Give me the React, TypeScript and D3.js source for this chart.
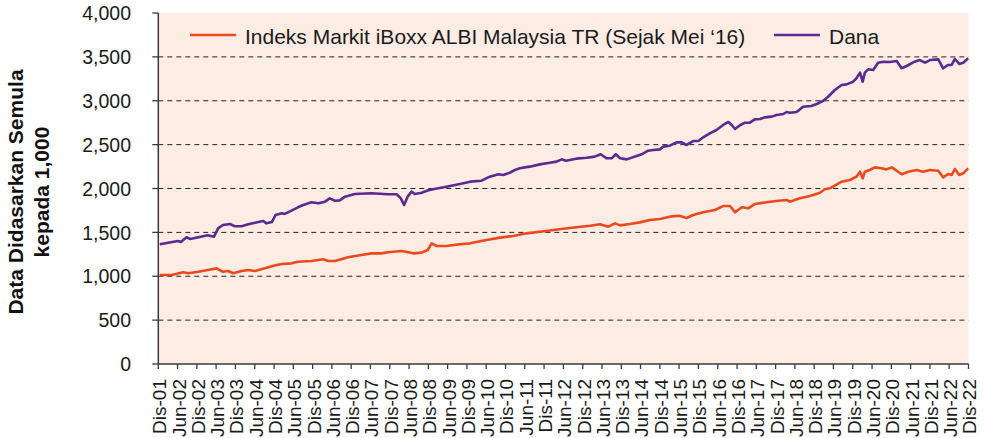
import React from "react";
import * as d3 from "d3";

// Dana (fund)
const FUND: [string, number][] = [
  ["2001-12-15", 1364], ["2002-06-05", 1402], ["2002-07-03", 1390], ["2002-08-25", 1444],
  ["2002-09-28", 1425], ["2002-12-15", 1444], ["2003-03-15", 1467], ["2003-05-12", 1451],
  ["2003-06-20", 1546], ["2003-08-05", 1584], ["2003-10-10", 1595], ["2003-11-28", 1569],
  ["2004-01-28", 1569], ["2004-04-01", 1592], ["2004-06-03", 1610], ["2004-08-20", 1630],
  ["2004-09-20", 1603], ["2004-11-10", 1618], ["2004-12-15", 1698], ["2005-02-12", 1717],
  ["2005-03-12", 1710], ["2005-05-15", 1747], ["2005-07-15", 1786], ["2005-09-03", 1812],
  ["2005-11-20", 1843], ["2006-01-25", 1831], ["2006-03-28", 1850], ["2006-05-12", 1888],
  ["2006-07-01", 1861], ["2006-08-15", 1865], ["2006-10-03", 1907], ["2007-01-05", 1937],
  ["2007-06-12", 1945], ["2007-11-15", 1934], ["2008-02-05", 1934], ["2008-03-15", 1888],
  ["2008-04-15", 1812], ["2008-05-18", 1907], ["2008-06-25", 1964], ["2008-07-25", 1937],
  ["2008-09-28", 1952], ["2008-12-01", 1980], ["2009-01-25", 1994], ["2009-05-20", 2021],
  ["2009-09-25", 2051], ["2010-01-01", 2078], ["2010-04-18", 2089], ["2010-07-05", 2135],
  ["2010-09-25", 2162], ["2010-11-10", 2154], ["2011-01-12", 2180], ["2011-02-28", 2211],
  ["2011-04-15", 2230], ["2011-07-18", 2249], ["2011-10-22", 2275], ["2012-01-25", 2294],
  ["2012-03-28", 2306], ["2012-05-15", 2332], ["2012-06-25", 2317], ["2012-10-01", 2340],
  ["2013-01-05", 2351], ["2013-03-25", 2363], ["2013-05-20", 2390], ["2013-07-15", 2344],
  ["2013-09-01", 2344], ["2013-10-10", 2390], ["2013-11-20", 2344], ["2014-01-22", 2332],
  ["2014-04-25", 2370], ["2014-06-12", 2390], ["2014-08-12", 2431], ["2014-10-01", 2439],
  ["2014-12-01", 2446], ["2015-01-03", 2477], ["2015-03-05", 2488], ["2015-05-07", 2526],
  ["2015-06-25", 2526], ["2015-08-12", 2496], ["2015-10-12", 2541], ["2015-12-01", 2541],
  ["2016-01-15", 2583], ["2016-03-18", 2628], ["2016-05-20", 2667], ["2016-07-22", 2724],
  ["2016-09-10", 2758], ["2016-10-12", 2724], ["2016-11-12", 2678], ["2017-01-01", 2724],
  ["2017-02-15", 2750], ["2017-04-01", 2750], ["2017-05-18", 2788], ["2017-07-05", 2792],
  ["2017-08-22", 2811], ["2017-10-25", 2819], ["2017-12-10", 2838], ["2018-02-12", 2849],
  ["2018-03-15", 2872], ["2018-04-15", 2864], ["2018-06-18", 2872], ["2018-08-18", 2932],
  ["2018-11-05", 2940], ["2018-12-25", 2963], ["2019-02-25", 3000], ["2019-04-12", 3046],
  ["2019-06-15", 3122], ["2019-08-18", 3179], ["2019-10-03", 3187], ["2019-12-05", 3217],
  ["2020-01-05", 3256], ["2020-02-08", 3320], ["2020-03-04", 3217], ["2020-03-25", 3320],
  ["2020-04-25", 3358], ["2020-06-12", 3350], ["2020-07-28", 3434], ["2020-09-15", 3445],
  ["2020-11-18", 3441], ["2021-01-20", 3453], ["2021-03-08", 3370], ["2021-04-25", 3396],
  ["2021-06-25", 3438], ["2021-08-28", 3464], ["2021-10-15", 3434], ["2021-12-01", 3464],
  ["2022-02-18", 3472], ["2022-04-05", 3370], ["2022-05-22", 3408], ["2022-06-25", 3408],
  ["2022-07-25", 3476], ["2022-09-04", 3419], ["2022-10-12", 3434], ["2022-11-28", 3484],
];

// Indeks Markit iBoxx ALBI Malaysia TR
const INDEX: [string, number][] = [
  ["2001-12-15", 1014], ["2002-04-05", 1014], ["2002-07-25", 1045], ["2002-09-10", 1034],
  ["2002-12-15", 1052], ["2003-03-15", 1071], ["2003-06-05", 1090], ["2003-08-01", 1052],
  ["2003-09-25", 1060], ["2003-11-10", 1034], ["2004-01-28", 1060], ["2004-04-01", 1071],
  ["2004-06-03", 1060], ["2004-09-05", 1090], ["2004-11-25", 1120], ["2005-02-12", 1139],
  ["2005-05-15", 1147], ["2005-07-15", 1166], ["2005-11-20", 1174], ["2006-03-10", 1193],
  ["2006-04-28", 1174], ["2006-07-01", 1174], ["2006-11-01", 1216], ["2007-03-08", 1242],
  ["2007-06-12", 1261], ["2007-09-15", 1261], ["2007-11-15", 1273], ["2008-03-20", 1288],
  ["2008-05-01", 1280], ["2008-07-10", 1261], ["2008-09-28", 1269], ["2008-11-25", 1299],
  ["2009-01-01", 1375], ["2009-02-18", 1345], ["2009-05-20", 1345], ["2009-09-25", 1364],
  ["2010-01-01", 1375], ["2010-06-03", 1413], ["2010-10-10", 1440], ["2011-02-12", 1459],
  ["2011-06-18", 1489], ["2011-10-22", 1508], ["2012-02-28", 1527], ["2012-06-01", 1542],
  ["2012-10-01", 1558], ["2013-02-10", 1576], ["2013-05-12", 1592], ["2013-08-01", 1565],
  ["2013-10-02", 1603], ["2013-11-20", 1580], ["2014-02-20", 1595], ["2014-05-25", 1614],
  ["2014-08-28", 1641], ["2014-12-01", 1652], ["2015-03-05", 1679], ["2015-06-03", 1690],
  ["2015-08-12", 1664], ["2015-10-12", 1698], ["2016-01-15", 1729], ["2016-05-05", 1755],
  ["2016-07-22", 1800], ["2016-09-25", 1800], ["2016-11-12", 1729], ["2017-01-15", 1786],
  ["2017-03-15", 1774], ["2017-05-18", 1823], ["2017-09-05", 1843], ["2017-12-28", 1861],
  ["2018-03-15", 1869], ["2018-04-15", 1850], ["2018-07-18", 1888], ["2018-10-22", 1914],
  ["2019-01-25", 1952], ["2019-03-12", 1991], ["2019-04-28", 2002], ["2019-05-28", 2020],
  ["2019-08-18", 2077], ["2019-11-05", 2097], ["2020-01-05", 2135], ["2020-02-08", 2191],
  ["2020-03-04", 2116], ["2020-03-25", 2191], ["2020-05-10", 2211], ["2020-06-28", 2241],
  ["2020-08-28", 2230], ["2020-10-15", 2218], ["2020-12-05", 2241], ["2021-01-20", 2203],
  ["2021-03-08", 2162], ["2021-05-10", 2191], ["2021-07-28", 2211], ["2021-09-28", 2191],
  ["2021-12-01", 2211], ["2022-02-18", 2203], ["2022-04-05", 2127], ["2022-05-22", 2165],
  ["2022-06-25", 2154], ["2022-07-25", 2222], ["2022-09-04", 2154], ["2022-10-12", 2173],
  ["2022-11-28", 2230],
];

const Y_TICKS = [0, 500, 1000, 1500, 2000, 2500, 3000, 3500, 4000];
const MONTH_LABELS: Record<number, string> = { 5: "Jun", 11: "Dis" };
const LEGEND = [
  { name: "Indeks Markit iBoxx ALBI Malaysia TR (Sejak Mei \u201816)", color: "#e9491d" },
  { name: "Dana", color: "#5b2a8e" },
];
const Y_TITLE = ["Data Didasarkan Semula", "kepada 1,000"];

const width = 984;
const height = 438;
const margin = { top: 13, right: 15.5, bottom: 74, left: 158.3 };
const font = "'Liberation Sans', Arial, Helvetica, sans-serif";

export default function App() {
  const parse = d3.timeParse("%Y-%m-%d");
  const start = new Date(2001, 11, 1);
  const end = new Date(2022, 11, 1);

  const x = d3.scaleTime().domain([start, end]).range([margin.left, width - margin.right]);
  const y = d3.scaleLinear().domain([0, 4000]).range([height - margin.bottom, margin.top]);

  const line = d3
    .line<[string, number]>()
    .x((d) => x(parse(d[0]) as Date))
    .y((d) => y(d[1]));

  const xTicks = d3.timeMonth
    .range(start, d3.timeDay.offset(end, 1))
    .filter((d) => d.getMonth() === 5 || d.getMonth() === 11);
  const fmtYear = d3.timeFormat("%y");

  const x0 = x.range()[0];
  const x1 = x.range()[1];
  const y0 = y(0);
  const axisColor = "#3a3a3a";

  return (
    <svg
      width={width}
      height={height}
      style={{ position: "absolute", left: 0, top: 0, background: "#fff" }}
      fontFamily={font}
    >
      <rect x={x0} y={y(4000)} width={x1 - x0} height={y0 - y(4000)} fill="#fdece4" />

      {/* gridlines */}
      {Y_TICKS.filter((t) => t > 0 && t < 4000).map((t) => (
        <line
          key={t}
          x1={x0}
          x2={x1}
          y1={y(t)}
          y2={y(t)}
          stroke="#222"
          strokeWidth={1}
          strokeDasharray="5,4"
        />
      ))}

      {/* lines */}
      <path d={line(INDEX) || ""} fill="none" stroke={LEGEND[0].color} strokeWidth={2.6} strokeLinejoin="round" />
      <path d={line(FUND) || ""} fill="none" stroke={LEGEND[1].color} strokeWidth={2.6} strokeLinejoin="round" />

      {/* axes */}
      <line x1={x0} x2={x0} y1={y(4000)} y2={y0} stroke={axisColor} strokeWidth={1.5} />
      <line x1={x0} x2={x1} y1={y0} y2={y0} stroke={axisColor} strokeWidth={1.5} />

      {Y_TICKS.map((t) => (
        <g key={t} transform={`translate(0,${y(t)})`}>
          <line x1={x0 - 6} x2={x0} stroke={axisColor} strokeWidth={1.3} />
          <text x={131} dy="0.37em" textAnchor="end" fontSize={19.5} fill="#1a1a1a">
            {d3.format(",")(t)}
          </text>
        </g>
      ))}

      {xTicks.map((d) => (
        <g key={d.toISOString()} transform={`translate(${x(d)},0)`}>
          <line y1={y0} y2={y0 + 5} stroke={axisColor} strokeWidth={1.3} />
          <text
            transform={`translate(0,${y0 + 15}) rotate(-90)`}
            dy="0.42em"
            textAnchor="end"
            fontSize={19}
            fill="#1a1a1a"
          >
            {`${MONTH_LABELS[d.getMonth()]}-${fmtYear(d)}`}
          </text>
        </g>
      ))}

      {/* y title */}
      {Y_TITLE.map((s, i) => (
        <text
          key={s}
          transform={`translate(${23 + i * 26},192) rotate(-90)`}
          textAnchor="middle"
          fontSize={21}
          fontWeight="bold"
          fill="#111"
        >
          {s}
        </text>
      ))}

      {/* legend */}
      {[
        { ...LEGEND[0], lx: 190 },
        { ...LEGEND[1], lx: 774 },
      ].map((l) => (
        <g key={l.name}>
          <line x1={l.lx} x2={l.lx + 46} y1={35} y2={35} stroke={l.color} strokeWidth={2.6} />
          <text x={l.lx + 55} y={37} dy="0.35em" fontSize={21} fill="#1a1a1a">
            {l.name}
          </text>
        </g>
      ))}
    </svg>
  );
}
